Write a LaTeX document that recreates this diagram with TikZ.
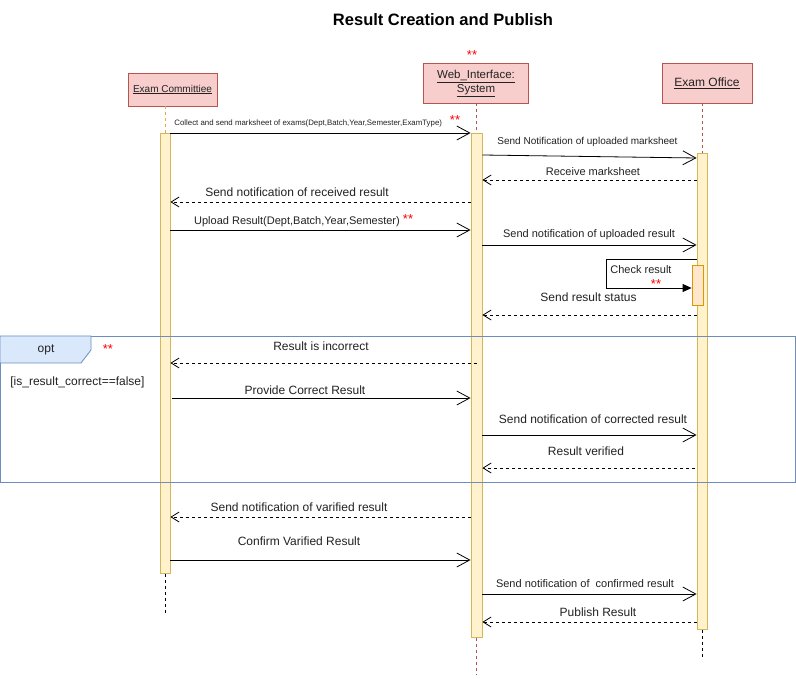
\documentclass[tikz,border=0pt]{standalone}
\usepackage{fontspec}
\setmainfont{Liberation Sans}
\usetikzlibrary{arrows.meta}
\newcommand\fsz[1]{\fontsize{#1}{#1}\selectfont}
\definecolor{headfill}{HTML}{F8CECC}
\definecolor{headdraw}{HTML}{B85450}
\definecolor{actfill}{HTML}{FFF2CC}
\definecolor{actdraw}{HTML}{D6B656}
\definecolor{chkfill}{HTML}{FFE6CC}
\definecolor{chkdraw}{HTML}{D79B00}
\definecolor{optfill}{HTML}{DAE8FC}
\definecolor{optdraw}{HTML}{6C8EBF}
\definecolor{txt}{HTML}{222222}
\definecolor{starred}{HTML}{FF0000}
\tikzset{
  head/.style={draw=headdraw, fill=headfill, inner sep=0pt, align=center, text=txt},
  actbar/.style={draw=actdraw, fill=actfill, inner sep=0pt, minimum width=10pt, anchor=north},
  lifered/.style={draw=headdraw, dash pattern=on 3pt off 3pt},
  lifeorange/.style={draw=actdraw!80!orange, dash pattern=on 3pt off 3pt},
  lifeblack/.style={draw=black, dash pattern=on 3pt off 3pt},
  syncmsg/.style={draw=black, -{Straight Barb[length=13pt,width=14pt,line width=0.8pt]}},
  retmsg/.style={draw=black, dash pattern=on 3pt off 3pt, -{Straight Barb[length=8pt,width=10pt,line width=0.8pt]}},
  lbl/.style={text=txt, inner sep=0pt, font=\fsz{12}},
  stars/.style={text=starred, inner sep=0pt, font=\fsz{13}}
}
\begin{document}
\begin{tikzpicture}[x=1pt,y=-1pt,line width=0.8pt]
\useasboundingbox (0,0) rectangle (796,679);
\fill[white] (0,0) rectangle (796,679);

% title
\node[text=black, font=\fsz{16.5}\bfseries, inner sep=0pt] (title) at (443,20) {Result Creation and Publish};
\node[stars] (st0) at (472,55) {**};

% heads
\node[head, minimum width=89pt, minimum height=33pt, font=\fsz{10}] (headC) at (172.5,89.5) {\underline{Exam Committiee}};
\node[head, minimum width=105pt, minimum height=40pt, font=\fsz{11.5}] (headW) at (475.5,83) {};
\node[text=txt, inner sep=0pt, font=\fsz{11.5}] (headWa) at (476,76) {\underline{Web\_Interface:}};
\node[text=txt, inner sep=0pt, font=\fsz{11.5}] (headWb) at (476,91) {\underline{System}};
\node[head, minimum width=90pt, minimum height=40pt, font=\fsz{12}] (headO) at (707,83) {\underline{Exam Office}};

% activation bars
\node[actbar, minimum height=440pt] (actC) at (165,133) {};
\node[actbar, minimum height=504pt, minimum width=11pt] (actW) at (476.5,133) {};
\node[actbar, minimum height=476pt] (actO) at (702,153) {};
\node[draw=chkdraw, fill=chkfill, inner sep=0pt, minimum width=11pt, minimum height=40pt, anchor=north] (actK) at (697.5,265.5) {};

% lifelines
\coordinate (endC) at (165,615);
\coordinate (endW) at (476.5,675);
\coordinate (endO) at (702,657);
\draw[lifeorange] (headC.south -| actC.north) -- (actC.north);
\draw[lifeblack] (actC.south) -- (endC);
\draw[lifered] (headW.south -| actW.north) -- (actW.north);
\draw[lifered] (actW.south) -- (endW);
\draw[lifered] (headO.south -| actO.north) -- (actO.north);
\draw[lifeblack] (actO.south) -- (endO);

% opt frame
\node[draw=optdraw, minimum width=795pt, minimum height=146pt, anchor=north west, inner sep=0pt] (optframe) at (0,336) {};
\draw[draw=optdraw, fill=optfill] (optframe.north west) -- (91,336) -- (91,350) -- (81,363) -- (0,363) -- cycle;
\node[lbl] (optlbl) at (46,349.5) {opt};
\node[stars] (st1) at (108,349) {**};
\node[lbl, anchor=west] (guard) at (10,382) {[is\_result\_correct==false]};

% messages
\draw[syncmsg] (actC.east |- 0,133) -- (actW.west |- 0,133);
\node[lbl, font=\fsz{7.85}, anchor=west] (l1) at (174,123) {Collect and send marksheet of exams(Dept,Batch,Year,Semester,ExamType)};
\node[stars] (st2) at (455,120) {**};

\draw[syncmsg] (actW.east |- 0,155) -- (actO.west |- 0,158);
\node[lbl, font=\fsz{10}] (l2) at (587.5,142) {Send Notification of uploaded marksheet};

\draw[retmsg] (actO.west |- 0,180) -- (actW.east |- 0,180);
\node[lbl, font=\fsz{11}] (l3) at (593,171.5) {Receive marksheet};

\draw[retmsg] (actW.west |- 0,202) -- (actC.east |- 0,202);
\node[lbl] (l4) at (297,192.5) {Send notification of received result};

\draw[syncmsg] (actC.east |- 0,230) -- (actW.west |- 0,230);
\node[lbl, font=\fsz{11}] (l5) at (297,221.5) {Upload Result(Dept,Batch,Year,Semester)};
\node[stars] (st3) at (408,219) {**};

\draw[syncmsg] (actW.east |- 0,245) -- (actO.west |- 0,245);
\node[lbl, font=\fsz{11}] (l6) at (589,234.5) {Send notification of uploaded result};

\coordinate (k1) at (606,259);
\coordinate (k2) at (606,288);
\draw[draw=black, -{Triangle[length=9pt,width=8pt]}] (actO.west |- 0,259) -- (k1) -- (k2) -- (actK.west |- 0,288);
\node[lbl, font=\fsz{11}, anchor=west] (l7) at (610,270) {Check result};
\node[stars] (st4) at (656,284) {**};

\draw[retmsg] (actO.west |- 0,315) -- (actW.east |- 0,315);
\node[lbl] (l8) at (588.5,297.5) {Send result status};

\draw[retmsg] (actW.north |- 0,363) -- (actC.east |- 0,363);
\node[lbl] (l9) at (321,346.5) {Result is incorrect};

\draw[syncmsg] (172,398) -- (actW.west |- 0,398);
\node[lbl] (l10) at (305,390) {Provide Correct Result};

\draw[syncmsg] (actW.east |- 0,435) -- (actO.west |- 0,435);
\node[lbl] (l11) at (593,419) {Send notification of corrected result};

\draw[retmsg] (695,468) -- (actW.east |- 0,468);
\node[lbl] (l12) at (586,451.5) {Result verified};

\draw[retmsg] (actW.west |- 0,517) -- (actC.east |- 0,517);
\node[lbl] (l13) at (299,507.5) {Send notification of varified result};

\draw[syncmsg] (actC.east |- 0,560) -- (actW.west |- 0,560);
\node[lbl] (l14) at (299,541.5) {Confirm Varified Result};

\draw[syncmsg] (actW.east |- 0,594) -- (actO.west |- 0,594);
\node[lbl, font=\fsz{11}] (l15) at (585,584) {Send notification of \ confirmed result};

\draw[retmsg] (actO.west |- 0,622) -- (actW.east |- 0,622);
\node[lbl] (l16) at (598,612.5) {Publish Result};
\end{tikzpicture}
\end{document}
